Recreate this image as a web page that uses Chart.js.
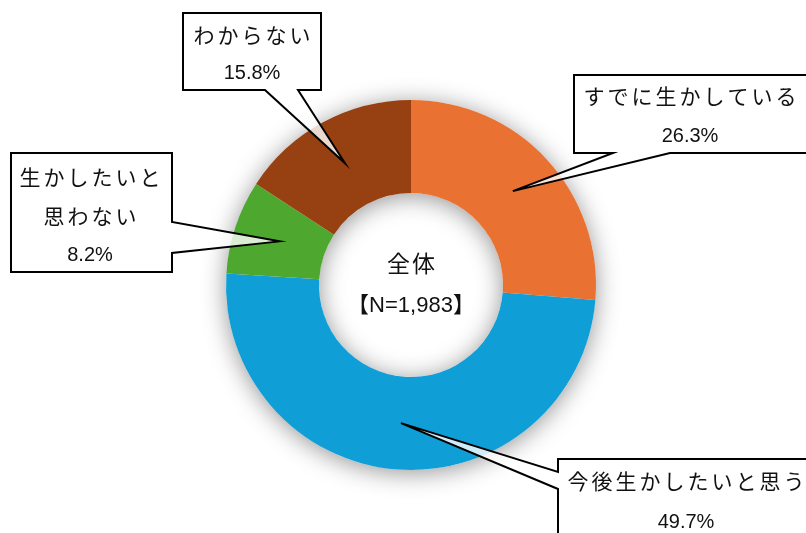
<!DOCTYPE html>
<html>
<head>
<meta charset="utf-8">
<script src="https://cdn.jsdelivr.net/npm/chart.js@4"></script>
<style>
  html, body { margin: 0; padding: 0; background: #fff; }
  #wrap { width: 806px; height: 533px; position: relative; }
</style>
</head>
<body>
<div id="wrap"><canvas id="pie"></canvas></div>
<script>
// data
const categories = ['すでに生かしている', '今後生かしたいと思う', '生かしたいと\n思わない', 'わからない'];
const shares = [26.3, 49.7, 8.2, 15.8];
const colors = ['#E97132', '#0F9ED5', '#4EA72E', '#974011'];
const centerTitle = '全体';
const centerSub = '【N=1,983】';

// callout boxes (layout only): box rect, tail base and text centre
const boxes = [
    { x1: 574, y1: 75, x2: 808, y2: 153, side: 'bottom', b1: 613, b2: 670, tx: 690, ty: [98, 136] },
    { x1: 558, y1: 459, x2: 814, y2: 560, side: 'left', b1: 472, b2: 489, tx: 686, ty: [483, 522] },
    { x1: 11, y1: 153, x2: 172, y2: 272, side: 'right', b1: 222, b2: 253, tx: 90, ty: [179, 218, 255] },
    { x1: 183, y1: 13, x2: 321, y2: 90, side: 'bottom', b1: 265, b2: 298, tx: 252, ty: [37, 73] }
];

const jpFont = '21px "Liberation Sans", "Noto Sans CJK JP", sans-serif';
const numFont = '20px "Liberation Sans", "Noto Sans CJK JP", sans-serif';

// soft shadow under the ring
const ringShadow = {
    id: 'ringShadow',
    beforeDatasetsDraw(chart) {
        const arc = chart.getDatasetMeta(0).data[0];
        if (!arc) return;
        const ctx = chart.ctx;
        ctx.save();
        ctx.shadowColor = 'rgba(0,0,0,0.42)';
        ctx.shadowBlur = 24;
        ctx.shadowOffsetY = 3;
        ctx.beginPath();
        ctx.arc(arc.x, arc.y, arc.outerRadius, 0, Math.PI * 2);
        ctx.arc(arc.x, arc.y, arc.innerRadius, Math.PI * 2, 0, true);
        ctx.fillStyle = '#fff';
        ctx.fill('evenodd');
        ctx.restore();
    }
};

function drawText(ctx, str, x, y, font, spacing) {
    ctx.font = font;
    ctx.letterSpacing = spacing + 'px';
    ctx.fillText(str, x + spacing / 2, y);
    ctx.letterSpacing = '0px';
}

const callouts = {
    id: 'callouts',
    afterDatasetsDraw(chart) {
        const ctx = chart.ctx;
        const meta = chart.getDatasetMeta(0);
        ctx.save();
        // centre text
        const a0 = meta.data[0];
        ctx.fillStyle = '#111';
        ctx.textAlign = 'center';
        ctx.textBaseline = 'middle';
        drawText(ctx, centerTitle, a0.x, 263, '23px "Noto Sans CJK JP", sans-serif', 2);
        drawText(ctx, centerSub, a0.x, 306, '22px "Liberation Sans", "Noto Sans CJK JP", sans-serif', 0);

        boxes.forEach((b, i) => {
            const tip = meta.data[i].getCenterPoint();
            ctx.beginPath();
            ctx.moveTo(b.x1, b.y1);
            ctx.lineTo(b.x2, b.y1);
            if (b.side === 'right') {
                ctx.lineTo(b.x2, b.b1);
                ctx.lineTo(tip.x, tip.y);
                ctx.lineTo(b.x2, b.b2);
            }
            ctx.lineTo(b.x2, b.y2);
            if (b.side === 'bottom') {
                ctx.lineTo(b.b2, b.y2);
                ctx.lineTo(tip.x, tip.y);
                ctx.lineTo(b.b1, b.y2);
            }
            ctx.lineTo(b.x1, b.y2);
            if (b.side === 'left') {
                ctx.lineTo(b.x1, b.b2);
                ctx.lineTo(tip.x, tip.y);
                ctx.lineTo(b.x1, b.b1);
            }
            ctx.closePath();
            ctx.fillStyle = 'rgba(255,255,255,0.8)';
            ctx.fill();
            ctx.lineWidth = 2;
            ctx.strokeStyle = '#000';
            ctx.lineJoin = 'miter';
            ctx.stroke();

            const lines = categories[i].split('\n');
            ctx.fillStyle = '#111';
            lines.forEach((ln, k) => drawText(ctx, ln, b.tx, b.ty[k], jpFont, 3));
            drawText(ctx, shares[i].toFixed(1) + '%', b.tx, b.ty[lines.length], numFont, 0);
        });
        ctx.restore();
    }
};

new Chart(document.getElementById('pie'), {
    type: 'doughnut',
    data: {
        labels: categories,
        datasets: [{
            data: shares,
            backgroundColor: colors,
            borderWidth: 0,
            hoverOffset: 0
        }]
    },
    options: {
        responsive: true,
        maintainAspectRatio: false,
        animation: false,
        events: [],
        radius: 185,
        cutout: 92,
        layout: { padding: { left: 216, right: 200, top: 100, bottom: 63 } },
        plugins: {
            legend: { display: false },
            tooltip: { enabled: false }
        }
    },
    plugins: [ringShadow, callouts]
});
</script>
</body>
</html>
